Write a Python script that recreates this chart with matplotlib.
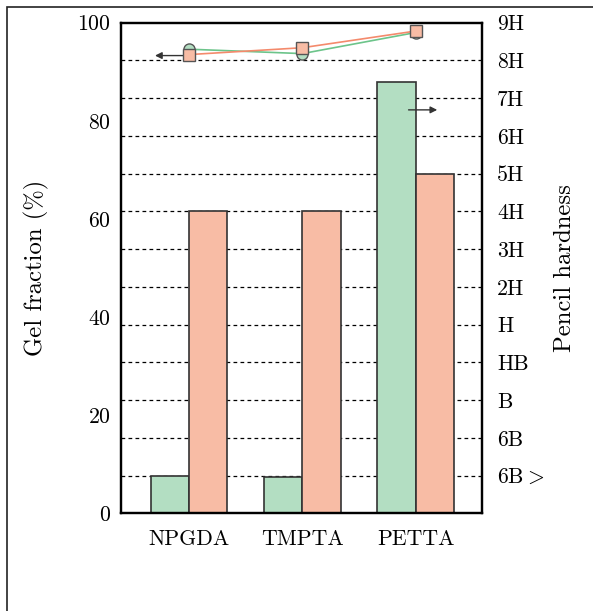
import matplotlib
matplotlib.use('Agg')
import matplotlib.pyplot as plt
from matplotlib.patches import Rectangle
import numpy as np

# data
monomers = ['NPGDA', 'TMPTA', 'PETTA']
hardness_labels = ['6B$>$', '6B', 'B', 'HB', 'H', '2H', '3H', '4H',
                   '5H', '6H', '7H', '8H', '9H']
hardness_green = [1.0, 0.96, 11.42]   # pencil hardness level (right axis)
hardness_orange = [8.0, 8.0, 9.0]
gel_green = [94.6, 93.7, 98.0]        # gel fraction % (left axis)
gel_orange = [93.5, 94.9, 98.3]

# colours
green_fill = '#b3dec2'
orange_fill = '#f8bca5'
green_line = '#6cc48a'
orange_line = '#f48a6c'
edge = '#333333'

plt.rcParams['font.family'] = ['cmr10', 'DejaVu Serif']
plt.rcParams['mathtext.fontset'] = 'cm'
plt.rcParams['axes.formatter.use_mathtext'] = True
plt.rcParams['font.size'] = 15.7

fig = plt.figure(figsize=(5.93, 6.11), dpi=100)
ax1 = fig.add_axes([121 / 593, 1 - 513.3 / 611, 361 / 593, 490.6 / 611])
ax2 = ax1.twinx()

x = np.arange(len(monomers))
w = 0.337

# bars on right axis
ax2.set_axisbelow(True)
ax2.bar(x - w / 2, hardness_green, w, color=green_fill, edgecolor=edge, linewidth=1.2, zorder=2)
ax2.bar(x + w / 2, hardness_orange, w, color=orange_fill, edgecolor=edge, linewidth=1.2, zorder=2)
ax2.set_ylim(0, 13)
ax2.set_yticks(range(1, 14))
ax2.set_yticklabels(hardness_labels)
for lv in range(1, 13):
    ax2.axhline(lv, color='black', linewidth=0.9, linestyle=(0, (3, 2.6)), zorder=1)
ax2.annotate('', xy=(2.19, 10.69), xytext=(1.937, 10.69),
             arrowprops=dict(arrowstyle='-|>', color=edge, lw=1.0, mutation_scale=10,
                             shrinkA=0, shrinkB=0), zorder=5)

# lines on left axis, drawn on top of bars
ax1.set_zorder(ax2.get_zorder() + 1)
ax1.patch.set_visible(False)
ax1.annotate('', xy=(-0.3, 93.3), xytext=(0.0, 93.3),
             arrowprops=dict(arrowstyle='-|>', color=edge, lw=1.0, mutation_scale=10,
                             shrinkA=0, shrinkB=0), zorder=2)
ax1.plot(x, gel_green, color=green_line, lw=1.2, marker='o', markersize=8,
         markerfacecolor=green_fill, markeredgecolor='#555555', markeredgewidth=1.0, zorder=3)
ax1.plot(x, gel_orange, color=orange_line, lw=1.2, marker='s', markersize=8,
         markerfacecolor=orange_fill, markeredgecolor='#555555', markeredgewidth=1.0, zorder=4)
ax1.set_ylim(0, 100)
ax1.set_yticks([0, 20, 40, 60, 80, 100])
ax1.set_xlim(-0.6, 2.585)
ax1.set_xticks(x)
ax1.set_xticklabels(monomers)

ax1.tick_params(axis='y', length=0, pad=7)
ax1.tick_params(axis='x', length=0, pad=12)
ax2.tick_params(axis='y', length=0, pad=11)

ax1.set_ylabel('Gel fraction (%)', fontsize=17.8)
ax2.set_ylabel('Pencil hardness', fontsize=17.8)
ax1.yaxis.set_label_coords(-0.2, 0.5)
ax2.yaxis.set_label_coords(1.2, 0.5)

for ax in (ax1, ax2):
    for s in ax.spines.values():
        s.set_linewidth(1.6)
        s.set_color('black')

# outer frame
fig.add_artist(Rectangle((7 / 593, -0.1), 2, 1 - 7 / 611 + 0.1, transform=fig.transFigure,
                         fill=False, edgecolor='#222222', linewidth=1.2))

plt.savefig('out.png', dpi=100)
